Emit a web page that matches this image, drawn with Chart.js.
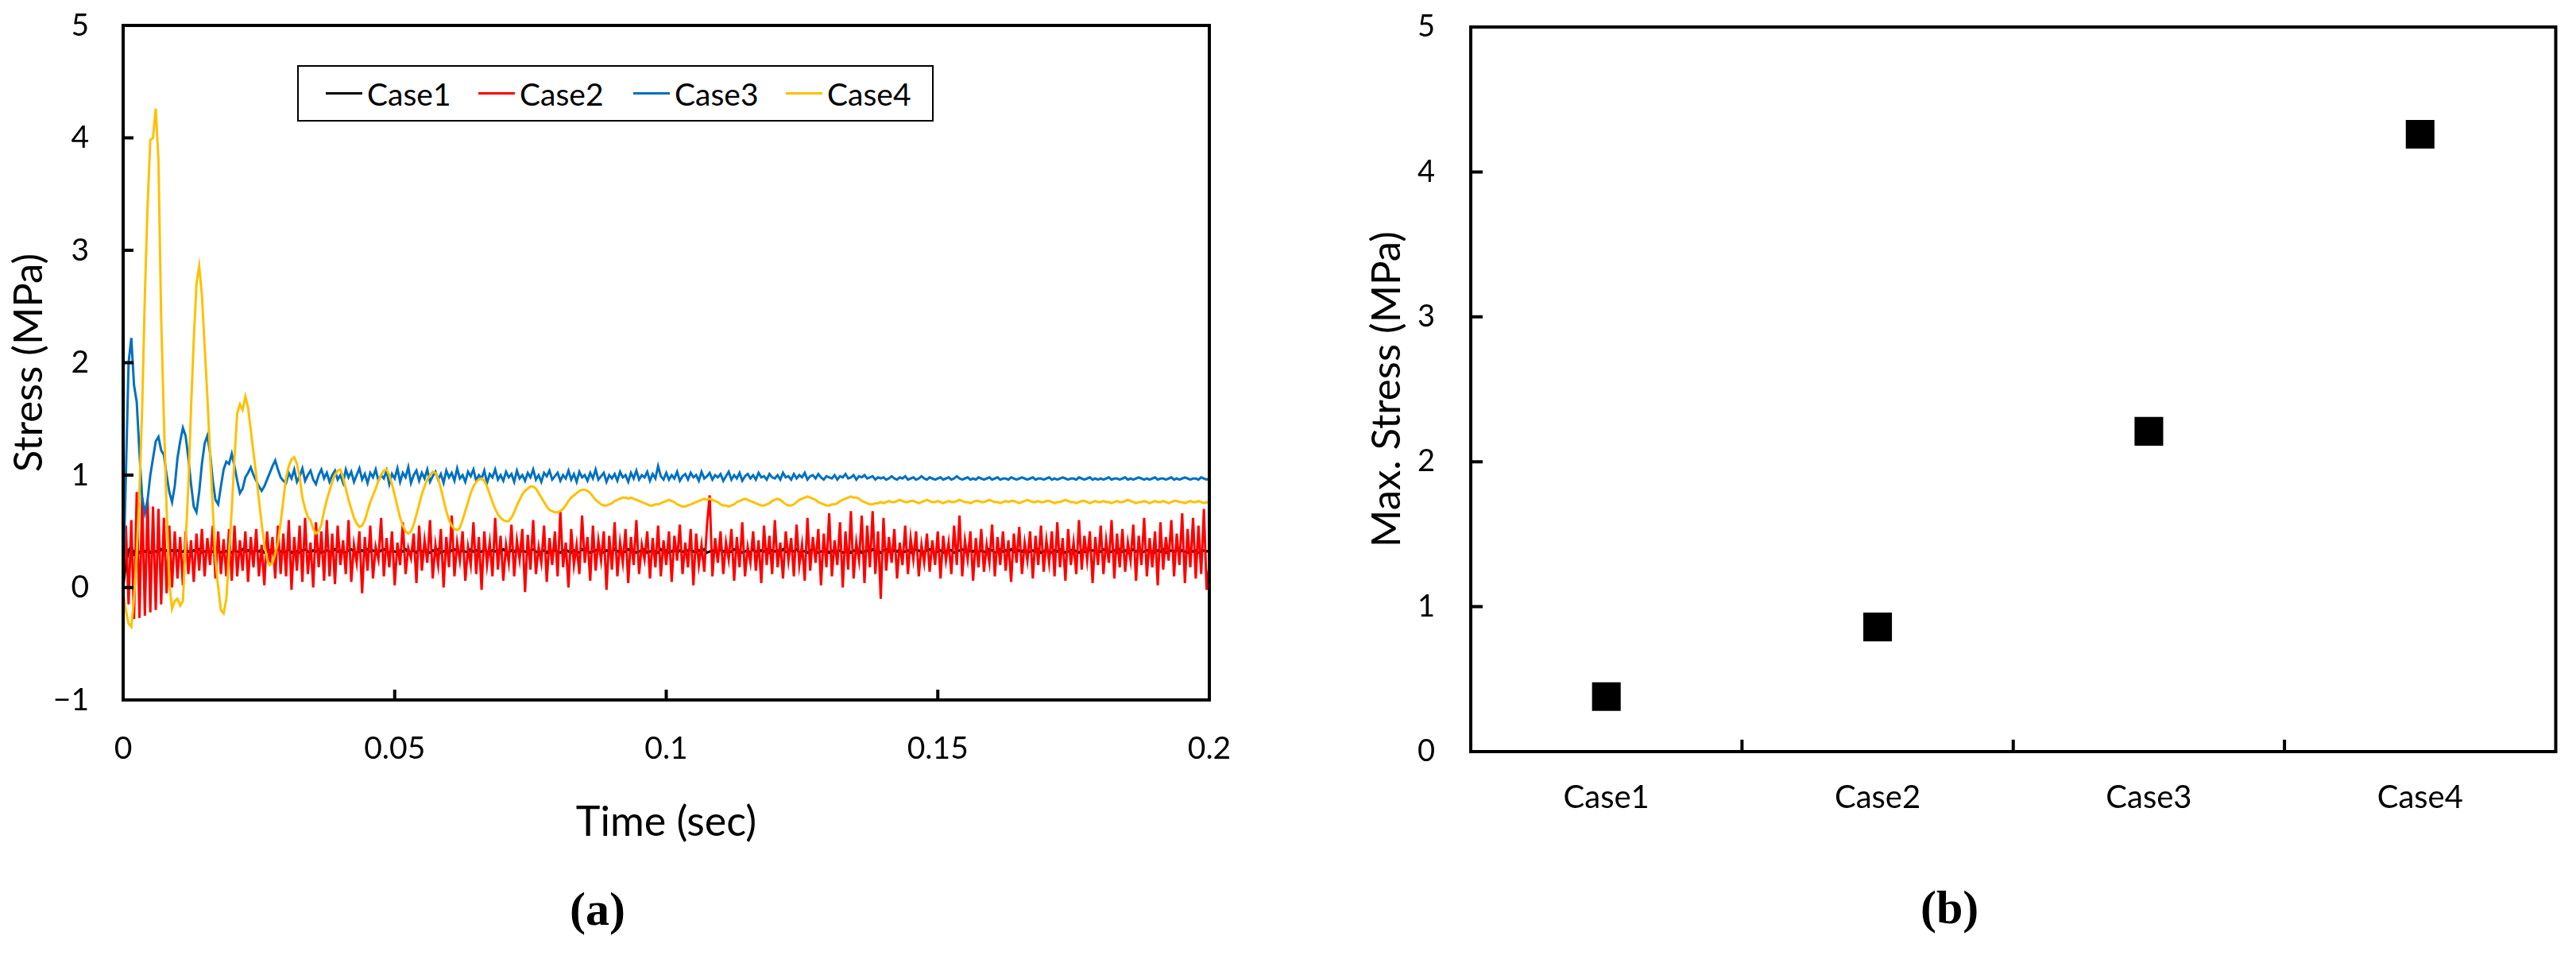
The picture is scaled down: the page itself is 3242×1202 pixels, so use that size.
<!DOCTYPE html>
<html>
<head>
<meta charset="utf-8">
<title>Stress time history and maximum stress</title>
<script src="https://cdn.jsdelivr.net/npm/chart.js@4.4.1/dist/chart.umd.min.js"></script>
<style>
  html, body { margin: 0; padding: 0; background: #fff; }
  body { width: 3242px; height: 1202px; position: relative; overflow: hidden; font-family: Lato, "Open Sans", sans-serif; }
  canvas { position: absolute; top: 0; }
  #chartA { left: 0; }
  #chartB { left: 1620px; }
  .tag { position: absolute; font-family: "Liberation Serif", serif; font-weight: bold; font-size: 60px; line-height: 1; }
  #legend { position: absolute; left: 374px; top: 82px; width: 801px; height: 71px; box-sizing: border-box; border: 2px solid #000; background: #fff; }
  .item { position: absolute; top: 0; height: 100%; display: flex; align-items: center; font-size: 39px; color: #000; }
  .item i { display: inline-block; width: 46px; height: 3px; margin-right: 6px; }
</style>
</head>
<body>
<canvas id="chartA" width="1600" height="1100"></canvas>
<canvas id="chartB" width="1622" height="1100"></canvas>
<div id="legend"></div>
<div class="tag" style="left:717px; top:1114px;">(a)</div>
<div class="tag" style="left:2417px; top:1112px;">(b)</div>
<script>
// ---------------------------------------------------------------------------
// Data (read off the figure), sampled every DT seconds from t = 0 to 0.2
// ---------------------------------------------------------------------------
const DT = 0.0005;
const SERIES_NAMES = ["Case1", "Case2", "Case3", "Case4"];
const SERIES_COLORS = ["#000000", "#FF0000", "#0070C0", "#FFC000"];

const CASE1 = [
  0, 0.21, 0.33, 0.37, 0.30, 0.34, 0.31, 0.33, 0.32, 0.34, 0.31, 0.33, 0.32, 0.31, 0.34, 0.32, 0.33, 0.31, 0.33, 0.32,
  0.33, 0.31, 0.32, 0.34, 0.32, 0.31, 0.33, 0.32, 0.34, 0.31, 0.32, 0.33, 0.31, 0.32, 0.34, 0.32, 0.31, 0.33, 0.32, 0.33,
  0.31, 0.33, 0.32, 0.31, 0.34, 0.32, 0.33, 0.31, 0.32, 0.33, 0.32, 0.34, 0.31, 0.32, 0.33, 0.31, 0.32, 0.34, 0.32, 0.31,
  0.32, 0.34, 0.31, 0.33, 0.32, 0.31, 0.33, 0.34, 0.32, 0.31, 0.33, 0.32, 0.34, 0.31, 0.32, 0.33, 0.32, 0.31, 0.34, 0.32,
  0.33, 0.32, 0.31, 0.33, 0.34, 0.32, 0.31, 0.32, 0.33, 0.31, 0.34, 0.32, 0.33, 0.32, 0.31, 0.33, 0.34, 0.32, 0.31, 0.33,
  0.32, 0.31, 0.33, 0.32, 0.34, 0.31, 0.32, 0.33, 0.31, 0.34, 0.32, 0.33, 0.32, 0.31, 0.33, 0.32, 0.34, 0.31, 0.32, 0.33,
  0.31, 0.33, 0.34, 0.32, 0.31, 0.33, 0.32, 0.31, 0.34, 0.32, 0.33, 0.31, 0.32, 0.34, 0.32, 0.31, 0.33, 0.32, 0.33, 0.31,
  0.34, 0.32, 0.31, 0.33, 0.32, 0.34, 0.31, 0.33, 0.32, 0.31, 0.33, 0.34, 0.32, 0.31, 0.32, 0.33, 0.31, 0.34, 0.32, 0.33,
  0.32, 0.31, 0.33, 0.34, 0.32, 0.31, 0.33, 0.32, 0.31, 0.34, 0.32, 0.33, 0.31, 0.32, 0.33, 0.34, 0.32, 0.31, 0.33, 0.32,
  0.31, 0.34, 0.32, 0.33, 0.31, 0.32, 0.34, 0.32, 0.33, 0.31, 0.32, 0.33, 0.34, 0.31, 0.32, 0.33, 0.32, 0.31, 0.34, 0.32,
  0.33, 0.31, 0.32, 0.34, 0.31, 0.33, 0.32, 0.31, 0.33, 0.34, 0.32, 0.31, 0.33, 0.32, 0.34, 0.31, 0.32, 0.33, 0.32, 0.31,
  0.34, 0.32, 0.33, 0.31, 0.32, 0.34, 0.32, 0.33, 0.31, 0.32, 0.33, 0.31, 0.34, 0.32, 0.31, 0.33, 0.32, 0.34, 0.31, 0.33,
  0.32, 0.33, 0.31, 0.34, 0.32, 0.31, 0.33, 0.32, 0.34, 0.31, 0.33, 0.32, 0.31, 0.33, 0.34, 0.32, 0.31, 0.32, 0.33, 0.34,
  0.31, 0.32, 0.34, 0.32, 0.33, 0.31, 0.32, 0.34, 0.31, 0.33, 0.32, 0.34, 0.31, 0.32, 0.33, 0.31, 0.34, 0.32, 0.33, 0.31,
  0.33, 0.34, 0.32, 0.31, 0.33, 0.32, 0.34, 0.31, 0.32, 0.33, 0.31, 0.32, 0.34, 0.33, 0.31, 0.32, 0.33, 0.34, 0.32, 0.31,
  0.32, 0.33, 0.31, 0.32, 0.34, 0.33, 0.31, 0.32, 0.33, 0.34, 0.32, 0.31, 0.33, 0.32, 0.34, 0.31, 0.33, 0.32, 0.31, 0.34,
  0.33, 0.31, 0.32, 0.34, 0.32, 0.33, 0.31, 0.34, 0.32, 0.31, 0.33, 0.32, 0.34, 0.31, 0.32, 0.33, 0.32, 0.34, 0.31, 0.32,
  0.34, 0.32, 0.31, 0.33, 0.32, 0.34, 0.33, 0.31, 0.32, 0.33, 0.34, 0.32, 0.31, 0.33, 0.32, 0.31, 0.34, 0.33, 0.32, 0.31,
  0.32, 0.34, 0.33, 0.31, 0.32, 0.33, 0.31, 0.34, 0.32, 0.33, 0.31, 0.32, 0.34, 0.32, 0.33, 0.31, 0.32, 0.33, 0.34, 0.32,
  0.31, 0.33, 0.32, 0.34, 0.31, 0.32, 0.33, 0.32, 0.34, 0.31, 0.33, 0.32, 0.31, 0.34, 0.32, 0.33, 0.31, 0.32, 0.33, 0.32,
  0.33
];

const CASE2 = [
  0.0, 0.55, -0.15, 0.6, -0.28, 0.85, -0.27, 0.8, -0.25, 0.78, -0.22, 0.72, -0.2, 0.7, -0.15, 0.62, -0.05, 0.55, 0.0, 0.5,
  0.08, 0.45, 0.02, 0.5, 0.12, 0.42, 0.05, 0.48, 0.15, 0.52, 0.1, 0.44, 0.2, 0.55, 0.08, 0.5, 0.12, 0.43, 0.1, 0.52,
  0.06, 0.55, 0.1, 0.42, 0.15, 0.5, 0.05, 0.45, 0.18, 0.52, 0.1, 0.38, 0.02, 0.5, 0.2, 0.45, 0.08, 0.55, 0.12, 0.48,
  0.1, 0.6, -0.02, 0.45, 0.15, 0.55, 0.05, 0.62, 0.12, 0.4, 0.0, 0.58, 0.18, 0.5, 0.06, 0.6, 0.1, 0.48, 0.03, 0.55,
  0.2, 0.42, 0.12, 0.6, 0.05, 0.38, 0.22, 0.5, -0.05, 0.45, 0.15, 0.55, 0.08, 0.36, 0.25, 0.62, 0.1, 0.44, 0.18, 0.5,
  0.02, 0.4, 0.2, 0.58, 0.12, 0.35, 0.26, 0.48, 0.04, 0.55, 0.15, 0.42, 0.22, 0.6, 0.08, 0.38, 0.2, 0.52, 0.0, 0.45,
  0.18, 0.64, 0.1, 0.4, 0.24, 0.5, 0.06, 0.36, 0.2, 0.58, 0.12, 0.45, -0.02, 0.5, 0.2, 0.4, 0.1, 0.62, 0.16, 0.46,
  0.06, 0.38, 0.22, 0.56, 0.1, 0.42, 0.25, 0.52, -0.04, 0.47, 0.16, 0.6, 0.12, 0.36, 0.22, 0.55, 0.05, 0.44, 0.2, 0.5,
  0.1, 0.68, 0.18, 0.4, 0.0, 0.52, 0.2, 0.38, 0.12, 0.64, 0.22, 0.45, 0.06, 0.55, 0.15, 0.42, 0.24, 0.5, -0.02, 0.46,
  0.16, 0.58, 0.1, 0.4, 0.22, 0.52, 0.04, 0.45, 0.2, 0.6, 0.12, 0.38, 0.25, 0.5, 0.08, 0.44, 0.18, 0.55, 0.1, 0.42,
  0.2, 0.5, 0.05, 0.46, 0.24, 0.56, 0.12, 0.4, 0.18, 0.52, 0.02, 0.48, 0.2, 0.38, 0.14, 0.55, 0.82, 0.1, 0.44, 0.22,
  0.5, 0.12, 0.4, 0.25, 0.52, 0.06, 0.45, 0.18, 0.58, 0.1, 0.36, 0.22, 0.5, 0.15, 0.42, 0.04, 0.55, 0.2, 0.46, 0.12,
  0.6, 0.18, 0.4, 0.08, 0.5, 0.24, 0.44, 0.1, 0.56, 0.2, 0.38, 0.06, 0.62, 0.15, 0.45, 0.22, 0.52, 0.02, 0.48, 0.18,
  0.66, 0.1, 0.42, 0.2, 0.58, 0.0, 0.5, 0.16, 0.68, 0.08, 0.4, 0.24, 0.64, 0.04, 0.55, 0.18, 0.68, 0.12, 0.5, -0.1,
  0.62, 0.15, 0.45, 0.22, 0.52, 0.08, 0.4, 0.2, 0.55, 0.12, 0.44, 0.25, 0.5, 0.1, 0.38, 0.22, 0.48, 0.14, 0.42, 0.2,
  0.5, 0.08, 0.46, 0.24, 0.4, 0.12, 0.55, 0.2, 0.64, 0.1, 0.42, 0.25, 0.5, 0.06, 0.44, 0.18, 0.52, 0.14, 0.38, 0.22,
  0.56, 0.1, 0.45, 0.2, 0.5, 0.15, 0.42, 0.05, 0.48, 0.22, 0.54, 0.12, 0.4, 0.24, 0.5, 0.08, 0.46, 0.2, 0.55, 0.14,
  0.42, 0.22, 0.5, 0.1, 0.58, 0.18, 0.44, 0.06, 0.52, 0.2, 0.4, 0.12, 0.6, 0.16, 0.46, 0.24, 0.5, 0.04, 0.45, 0.2,
  0.55, 0.12, 0.42, 0.22, 0.6, 0.08, 0.48, 0.18, 0.52, 0.14, 0.4, 0.24, 0.56, 0.06, 0.46, 0.2, 0.62, 0.1, 0.44, 0.18,
  0.5, 0.02, 0.58, 0.16, 0.45, 0.24, 0.6, 0.1, 0.48, 0.2, 0.66, 0.04, 0.52, 0.18, 0.62, 0.08, 0.55, 0.12, 0.7, -0.02,
  0.2
];

const CASE3 = [
  0.0, 1.0, 2.0, 2.22, 1.8, 1.65, 1.2, 0.8, 0.66, 0.78, 1.0, 1.15, 1.3, 1.34, 1.22, 1.18, 1.0, 0.85, 0.76, 0.9,
  1.15, 1.3, 1.42, 1.35, 1.15, 0.92, 0.72, 0.67, 0.85, 1.1, 1.28, 1.35, 1.2, 0.95, 0.78, 0.74, 0.9, 1.05, 1.12, 1.1,
  1.19, 1.08, 0.95, 0.84, 0.88, 0.98, 1.02, 1.07, 1.0, 0.95, 0.9, 0.86, 0.9, 0.96, 1.02, 1.08, 1.13, 1.05, 0.98, 0.95,
  0.93, 1.02, 0.97, 1.05, 0.94, 0.99, 1.06, 0.95, 1.0, 1.04, 0.96, 0.92, 1.0, 1.05, 0.97, 1.02, 0.94, 1.0, 1.04, 0.96,
  1.0, 0.93, 1.05, 0.98, 1.03, 0.94, 1.0, 1.06, 0.96, 1.01, 0.93, 1.02, 0.98, 1.05, 0.95, 1.0, 0.97, 1.04, 0.92, 1.01,
  0.97, 1.06, 0.94, 1.02, 0.98, 1.07, 0.93, 1.0, 1.04, 0.95, 1.02, 0.97, 1.05, 0.94, 0.99, 1.03, 0.96, 1.01, 0.93, 1.04,
  0.98, 1.02, 0.95, 1.06, 0.97, 1.0, 0.94, 1.03, 0.99, 1.05, 0.95, 1.0, 0.97, 1.04, 0.93, 1.01, 0.98, 1.05, 0.96, 1.0,
  0.95, 1.03, 0.98, 1.01, 0.94, 1.04, 0.97, 1.0, 0.95, 1.02, 0.98, 1.05, 0.96, 1.0, 0.94, 1.02, 0.99, 1.04, 0.96, 0.99,
  1.02, 0.95, 1.0, 0.97, 1.04, 0.96, 1.01, 0.94, 1.03, 0.98, 1.0, 0.95, 1.02, 0.97, 1.05, 0.96, 0.99, 1.02, 0.94, 1.0,
  0.97, 1.01, 0.95, 1.03, 0.98, 1.0, 0.94, 1.02, 0.97, 1.04, 0.96, 1.0, 0.98, 1.03, 0.95, 1.01, 0.97, 1.08, 0.99, 0.96,
  1.02, 0.96, 1.0, 0.97, 1.03, 0.95, 0.99, 1.01, 0.96, 1.02, 0.98, 1.0, 0.95, 1.03, 0.97, 0.99, 1.02, 0.96, 1.0, 0.98,
  1.01, 0.95, 0.99, 1.03, 0.96, 1.0, 0.97, 1.02, 0.95, 0.99, 1.01, 0.97, 1.0, 0.96, 1.02, 0.98, 0.99, 0.96, 1.01, 0.98,
  0.97, 1.0, 0.96, 1.02, 0.98, 0.99, 0.96, 1.01, 0.97, 1.0, 0.98, 1.02, 0.96, 0.99, 1.0, 0.97, 1.01, 0.98, 0.96, 0.99,
  0.98, 0.97, 1.0, 0.96, 0.99, 0.98, 1.01, 0.97, 0.98, 1.0, 0.96, 0.99, 0.98, 1.0, 0.97, 0.98, 0.99, 0.96, 0.98, 0.97,
  0.98, 0.96, 0.97, 0.99, 0.97, 0.96, 0.98, 0.97, 0.99, 0.96, 0.97, 0.98, 0.96, 0.97, 0.99, 0.97, 0.96, 0.98, 0.97, 0.96,
  0.97, 0.98, 0.96, 0.97, 0.98, 0.96, 0.97, 0.99, 0.97, 0.96, 0.97, 0.98, 0.96, 0.97, 0.96, 0.98, 0.97, 0.96, 0.97, 0.98,
  0.96, 0.97, 0.98, 0.96, 0.97, 0.97, 0.96, 0.98, 0.97, 0.96, 0.97, 0.98, 0.97, 0.96, 0.97, 0.98, 0.96, 0.97, 0.97, 0.96,
  0.97, 0.98, 0.96, 0.97, 0.96, 0.97, 0.98, 0.97, 0.96, 0.97, 0.97, 0.96, 0.98, 0.97, 0.96, 0.97, 0.98, 0.96, 0.97, 0.96,
  0.97, 0.96, 0.97, 0.98, 0.96, 0.97, 0.97, 0.96, 0.97, 0.98, 0.96, 0.97, 0.96, 0.97, 0.98, 0.97, 0.96, 0.97, 0.96, 0.97,
  0.98, 0.96, 0.97, 0.97, 0.96, 0.97, 0.98, 0.96, 0.97, 0.96, 0.97, 0.98, 0.97, 0.96, 0.97, 0.97, 0.96, 0.98, 0.97, 0.96,
  0.97
];

const CASE4 = [
  -0.05, -0.2, -0.32, -0.35, -0.1, 0.3, 0.85, 1.6, 2.6, 3.4, 3.98, 4.0, 4.26, 3.8, 2.4, 1.5, 0.7, 0.05, -0.19, -0.12,
  -0.1, -0.16, -0.12, 0.4, 0.9, 1.6, 2.2, 2.7, 2.86, 2.6, 2.15, 1.7, 1.2, 0.7, 0.25, 0.0, -0.2, -0.23, -0.1, 0.3,
  0.7, 1.15, 1.55, 1.63, 1.58, 1.7, 1.6, 1.4, 1.2, 1.0, 0.78, 0.57, 0.38, 0.25, 0.2, 0.22, 0.3, 0.4, 0.58, 0.78,
  0.98, 1.08, 1.14, 1.16, 1.1, 0.98, 0.8, 0.7, 0.63, 0.6, 0.52, 0.48, 0.5, 0.56, 0.68, 0.78, 0.86, 0.94, 1.0, 1.04,
  1.05, 0.98, 0.88, 0.78, 0.7, 0.62, 0.57, 0.54, 0.55, 0.6, 0.68, 0.76, 0.82, 0.88, 0.95, 1.0, 1.04, 1.05, 1.0, 0.92,
  0.82, 0.72, 0.62, 0.55, 0.5, 0.48, 0.5, 0.56, 0.65, 0.74, 0.83, 0.9, 0.96, 1.0, 1.03, 1.02, 0.97, 0.88, 0.78, 0.68,
  0.6, 0.55, 0.52, 0.51, 0.53, 0.6, 0.68, 0.76, 0.84, 0.9, 0.94, 0.96, 0.97, 0.95, 0.9, 0.83, 0.76, 0.7, 0.65, 0.62,
  0.6, 0.59, 0.59, 0.62, 0.67, 0.73, 0.78, 0.83, 0.86, 0.88, 0.9, 0.9, 0.88, 0.84, 0.8, 0.76, 0.72, 0.69, 0.68, 0.67,
  0.67, 0.68, 0.7, 0.73, 0.77, 0.8, 0.82, 0.84, 0.86, 0.87, 0.87, 0.86, 0.84, 0.81, 0.78, 0.76, 0.74, 0.73, 0.73, 0.74,
  0.75, 0.77, 0.78, 0.79, 0.8, 0.8, 0.79, 0.8, 0.79, 0.78, 0.77, 0.76, 0.75, 0.74, 0.73, 0.73, 0.74, 0.74, 0.75, 0.76,
  0.77, 0.78, 0.77, 0.76, 0.74, 0.73, 0.72, 0.72, 0.73, 0.74, 0.75, 0.76, 0.77, 0.78, 0.79, 0.78, 0.79, 0.78, 0.77, 0.76,
  0.74, 0.73, 0.73, 0.72, 0.73, 0.74, 0.76, 0.77, 0.78, 0.79, 0.78, 0.77, 0.76, 0.75, 0.74, 0.73, 0.73, 0.74, 0.75, 0.77,
  0.78, 0.79, 0.78, 0.76, 0.74, 0.73, 0.73, 0.74, 0.76, 0.78, 0.79, 0.8, 0.81, 0.8, 0.79, 0.78, 0.76, 0.75, 0.74, 0.73,
  0.73, 0.74, 0.74, 0.75, 0.77, 0.78, 0.79, 0.8, 0.81, 0.8, 0.8, 0.79, 0.77, 0.76, 0.75, 0.74, 0.74, 0.75, 0.75, 0.76,
  0.75, 0.76, 0.77, 0.76, 0.76, 0.77, 0.78, 0.77, 0.76, 0.76, 0.77, 0.77, 0.76, 0.75, 0.76, 0.77, 0.78, 0.77, 0.76, 0.76,
  0.77, 0.76, 0.75, 0.76, 0.77, 0.76, 0.76, 0.77, 0.78, 0.77, 0.76, 0.76, 0.75, 0.76, 0.77, 0.77, 0.76, 0.76, 0.77, 0.78,
  0.77, 0.76, 0.76, 0.75, 0.76, 0.77, 0.76, 0.77, 0.77, 0.76, 0.75, 0.76, 0.77, 0.78, 0.77, 0.76, 0.76, 0.77, 0.76, 0.76,
  0.77, 0.77, 0.76, 0.75, 0.76, 0.76, 0.77, 0.78, 0.77, 0.76, 0.76, 0.75, 0.76, 0.77, 0.77, 0.76, 0.75, 0.76, 0.77, 0.76,
  0.76, 0.77, 0.76, 0.76, 0.75, 0.76, 0.77, 0.76, 0.76, 0.77, 0.78, 0.77, 0.76, 0.75, 0.76, 0.76, 0.77, 0.76, 0.75, 0.76,
  0.77, 0.76, 0.76, 0.77, 0.76, 0.75, 0.76, 0.77, 0.77, 0.76, 0.76, 0.75, 0.76, 0.77, 0.76, 0.76, 0.77, 0.76, 0.75, 0.76,
  0.75
];

// panel (b): maximum stress per case
const CASES = ["Case1", "Case2", "Case3", "Case4"];
const MAX_STRESS = [0.38, 0.86, 2.21, 4.26];

const X_TICKS = [0, 0.05, 0.1, 0.15, 0.2];
const Y_TICKS_A = [-1, 0, 1, 2, 3, 4, 5];
const Y_TICKS_B = [0, 1, 2, 3, 4, 5];

// ---------------------------------------------------------------------------
// Shared bits
// ---------------------------------------------------------------------------
const FONT = "Lato, 'Open Sans', sans-serif";
const fmtNum = v => {
  const r = parseFloat(Number(v).toFixed(3));
  return r < 0 ? "\u2212" + Math.abs(r) : String(r);
};

// keep the plot box where the figure has it: no extra label padding
const noPadY = (w) => s => { s.width = w; s.paddingTop = 0; s.paddingBottom = 0; };
const noPadX = (h) => s => { s.height = h; s.paddingLeft = 0; s.paddingRight = 0; };

// draws the closed frame and the inward tick marks Excel-style
const frameTicks = {
  id: "frameTicks",
  afterDraw(chart, args, opts) {
    const { ctx, chartArea: a } = chart;
    const ys = chart.scales.y;
    ctx.save();
    ctx.strokeStyle = "#000";
    ctx.lineWidth = opts.tickWidth;
    ctx.beginPath();
    for (const px of opts.xTickPixels(chart)) {
      ctx.moveTo(px, a.bottom);
      ctx.lineTo(px, a.bottom - opts.tickLen);
    }
    for (const t of ys.ticks) {
      const py = ys.getPixelForValue(t.value);
      if (py <= a.top + 2 || py >= a.bottom - 2) continue;
      ctx.moveTo(a.left, py);
      ctx.lineTo(a.left + opts.tickLen, py);
    }
    ctx.stroke();
    ctx.lineWidth = opts.frameWidth;
    ctx.strokeRect(a.left, a.top, a.right - a.left, a.bottom - a.top);
    ctx.restore();
  }
};

// ---------------------------------------------------------------------------
// (a) stress time history
// ---------------------------------------------------------------------------
const seriesA = [CASE1, CASE2, CASE3, CASE4];

new Chart(document.getElementById("chartA"), {
  type: "line",
  data: {
    datasets: seriesA.map((vals, k) => ({
      label: SERIES_NAMES[k],
      data: vals.map((v, i) => ({ x: i * DT, y: v })),
      borderColor: SERIES_COLORS[k],
      borderWidth: 3,
      pointRadius: 0,
      tension: 0,
      fill: false,
      order: 4 - k, // later cases drawn on top
    }))
  },
  options: {
    responsive: false,
    animation: false,
    layout: { padding: { left: 0, right: 78, top: 32, bottom: 0 } },
    plugins: {
      legend: { display: false },
      tooltip: { enabled: false },
      frameTicks: {
        tickLen: 13, tickWidth: 4, frameWidth: 4,
        xTickPixels: chart => X_TICKS.slice(1, -1).map(v => chart.scales.x.getPixelForValue(v)),
      },
    },
    scales: {
      x: {
        type: "linear", min: 0, max: 0.2,
        afterBuildTicks: s => { s.ticks = X_TICKS.map(v => ({ value: v })); },
        afterFit: noPadX(219),
        grid: { display: false, drawTicks: false },
        border: { display: false },
        ticks: { padding: 38, color: "#000", maxRotation: 0, autoSkip: false, font: { size: 39, family: FONT }, callback: v => fmtNum(v) },
        title: { display: true, text: "Time (sec)", color: "#000", font: { size: 52, family: FONT }, padding: { top: 0, bottom: 34 } },
      },
      y: {
        min: -1, max: 5,
        afterBuildTicks: s => { s.ticks = Y_TICKS_A.map(v => ({ value: v })); },
        afterFit: noPadY(155),
        grid: { display: false, drawTicks: false },
        border: { display: false },
        ticks: { padding: 43, color: "#000", font: { size: 39, family: FONT }, callback: v => fmtNum(v) },
        title: { display: true, text: "Stress (MPa)", color: "#000", font: { size: 51, family: FONT }, padding: { top: 6, bottom: 0 } },
      }
    }
  },
  plugins: [frameTicks]
});

// legend box of (a), laid over the plot
const LEGEND_LEFT = [34, 226, 421, 613];
document.getElementById("legend").innerHTML = SERIES_NAMES.map((name, k) =>
  `<div class="item" style="left:${LEGEND_LEFT[k]}px"><i style="background:${SERIES_COLORS[k]}"></i>${name}</div>`
).join("");

// ---------------------------------------------------------------------------
// (b) maximum stress per case
// ---------------------------------------------------------------------------
new Chart(document.getElementById("chartB"), {
  type: "line",
  data: {
    labels: CASES,
    datasets: [{
      label: "Max. Stress",
      data: MAX_STRESS,
      showLine: false,
      pointStyle: "rect",
      pointRadius: 25.5,
      pointBackgroundColor: "#000",
      pointBorderWidth: 0,
    }]
  },
  options: {
    responsive: false,
    animation: false,
    layout: { padding: { left: 0, right: 25, top: 34, bottom: 0 } },
    plugins: {
      legend: { display: false },
      tooltip: { enabled: false },
      frameTicks: {
        tickLen: 15, tickWidth: 4, frameWidth: 4,
        xTickPixels: chart => {
          const xs = chart.scales.x;
          return CASES.slice(1).map((c, i) => (xs.getPixelForValue(i) + xs.getPixelForValue(i + 1)) / 2);
        },
      },
    },
    scales: {
      x: {
        type: "category", offset: true,
        afterFit: noPadX(154),
        grid: { display: false, drawTicks: false },
        border: { display: false },
        ticks: { padding: 34, color: "#000", maxRotation: 0, font: { size: 40, family: FONT } },
      },
      y: {
        min: 0, max: 5,
        afterBuildTicks: s => { s.ticks = Y_TICKS_B.map(v => ({ value: v })); },
        afterFit: noPadY(231),
        grid: { display: false, drawTicks: false },
        border: { display: false },
        ticks: { padding: 45, color: "#000", font: { size: 38, family: FONT }, callback: v => fmtNum(v) },
        title: { display: true, text: "Max. Stress (MPa)", color: "#000", font: { size: 51, family: FONT }, padding: { top: 95, bottom: 0 } },
      }
    }
  },
  plugins: [frameTicks]
});
</script>
</body>
</html>
